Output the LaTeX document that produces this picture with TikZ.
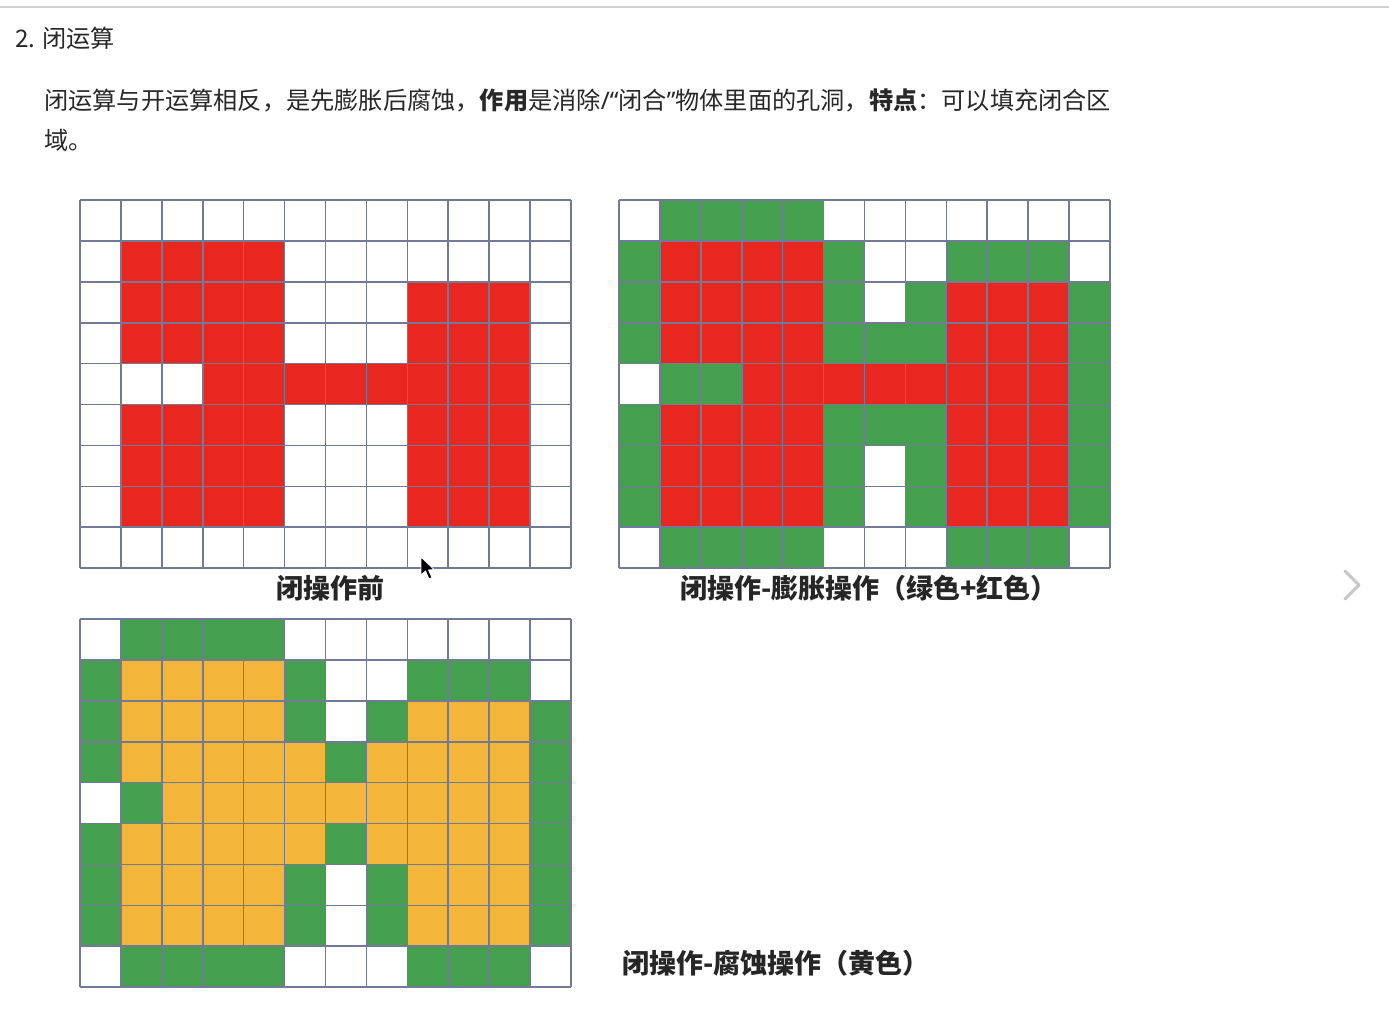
\documentclass[tikz,border=0pt]{standalone}
\usepackage{fontspec}
\newfontfamily\cjk{Noto Sans CJK SC}
\newfontfamily\lat{Noto Sans}
\definecolor{cR}{RGB}{232,40,32}
\definecolor{cG}{RGB}{68,160,78}
\definecolor{cY}{RGB}{244,182,58}
\definecolor{cW}{RGB}{255,255,255}
\definecolor{gline}{RGB}{115,122,150}
\definecolor{txt}{RGB}{40,40,40}
\newcommand\mygrid[3]{%
  \foreach \row [count=\r from 0] in {#3} {
    \foreach \c [count=\k from 0] in \row {
      \fill[c\c] (#1+\k*40.92,#2+\r*40.9) rectangle ++(40.92,40.9);
    }
  }
  \foreach \k in {0,...,12} \draw[gl] (#1+\k*40.92,#2) -- ++(0,368.1);
  \foreach \r in {0,...,9} \draw[gl] (#1,#2+\r*40.9) -- ++(491,0);
}
\begin{document}
\begin{tikzpicture}[x=1pt,y=-1pt,
  gl/.style={draw=gline,line width=1.6pt},
  para/.style={anchor=west,inner sep=0pt,font=\cjk\fontsize{24.2}{28}\selectfont,text=txt},
  captext/.style={inner sep=0pt,font=\cjk\bfseries\fontsize{27}{32}\selectfont,text=black!85}]
\useasboundingbox (0,0) rectangle (1389,1031);
\fill[white] (0,0) rectangle (1389,1031);
\draw[black!18,line width=1.5pt] (0,7) -- (1389,7);

\node[para] (h) at (15,38) {2. 闭运算};
\node[para] (p1) at (44,100) {闭运算与开运算相反，是先膨胀后腐蚀，\textbf{作用}是消除{\lat/“}闭合{\lat”}物体里面的孔洞，\textbf{特点}：可以填充闭合区};
\node[para] (p2) at (44,140) {域。};

% grid 1: before
\mygrid{80}{200}{%
{W,W,W,W,W,W,W,W,W,W,W,W},
{W,R,R,R,R,W,W,W,W,W,W,W},
{W,R,R,R,R,W,W,W,R,R,R,W},
{W,R,R,R,R,W,W,W,R,R,R,W},
{W,W,W,R,R,R,R,R,R,R,R,W},
{W,R,R,R,R,W,W,W,R,R,R,W},
{W,R,R,R,R,W,W,W,R,R,R,W},
{W,R,R,R,R,W,W,W,R,R,R,W},
{W,W,W,W,W,W,W,W,W,W,W,W}}

% grid 2: dilation
\mygrid{619}{200}{%
{W,G,G,G,G,W,W,W,W,W,W,W},
{G,R,R,R,R,G,W,W,G,G,G,W},
{G,R,R,R,R,G,W,G,R,R,R,G},
{G,R,R,R,R,G,G,G,R,R,R,G},
{W,G,G,R,R,R,R,R,R,R,R,G},
{G,R,R,R,R,G,G,G,R,R,R,G},
{G,R,R,R,R,G,W,G,R,R,R,G},
{G,R,R,R,R,G,W,G,R,R,R,G},
{W,G,G,G,G,W,W,W,G,G,G,W}}

% grid 3: erosion
\mygrid{80}{619}{%
{W,G,G,G,G,W,W,W,W,W,W,W},
{G,Y,Y,Y,Y,G,W,W,G,G,G,W},
{G,Y,Y,Y,Y,G,W,G,Y,Y,Y,G},
{G,Y,Y,Y,Y,Y,G,Y,Y,Y,Y,G},
{W,G,Y,Y,Y,Y,Y,Y,Y,Y,Y,G},
{G,Y,Y,Y,Y,Y,G,Y,Y,Y,Y,G},
{G,Y,Y,Y,Y,G,W,G,Y,Y,Y,G},
{G,Y,Y,Y,Y,G,W,G,Y,Y,Y,G},
{W,G,G,G,G,W,W,W,G,G,G,W}}

\node[captext] (c1) at (330,588) {闭操作前};
\node[captext,anchor=west] (c2) at (680,588) {闭操作-膨胀操作（绿色+红色）};
\node[captext,anchor=west] (c3) at (622,963) {闭操作-腐蚀操作（黄色）};

% mouse cursor
\filldraw[fill=black,draw=white,line width=0.8pt,line join=round]
  (421,557) -- (421,575) -- (425.5,571) -- (429,579) -- (432,577.5) -- (428.5,570) -- (434,569.5) -- cycle;

% next chevron
\draw[black!22,line width=3pt,line cap=round,line join=round] (1345,571) -- (1359,585) -- (1345,599);
\end{tikzpicture}
\end{document}
